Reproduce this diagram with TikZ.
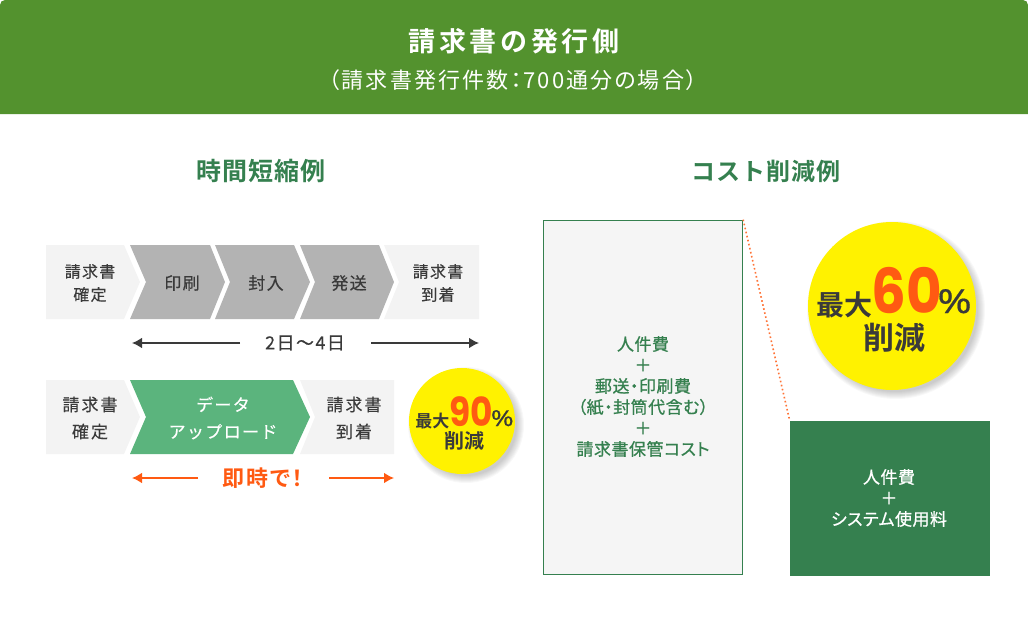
\documentclass[tikz,border=0pt]{standalone}
\usepackage{fontspec}
\setmainfont{Noto Sans CJK JP}[BoldFont={Noto Sans CJK JP Bold}]
\newfontfamily\smA[LetterSpace=8,FakeBold=0.3]{Noto Sans CJK JP}
\newfontfamily\smB[LetterSpace=12,FakeBold=0.3]{Noto Sans CJK JP}
\newfontfamily\smP[RawFeature=+palt,LetterSpace=3,FakeBold=0.7]{Noto Sans CJK JP}
\newfontfamily\bdT[LetterSpace=13.5]{Noto Sans CJK JP Bold}
\newfontfamily\bdH[LetterSpace=4]{Noto Sans CJK JP Bold}
\newfontfamily\bdP[LetterSpace=8,RawFeature=+palt]{Noto Sans CJK JP Bold}
\newfontfamily\subT[LetterSpace=9.5,RawFeature=+palt]{Noto Sans CJK JP}
\newfontfamily\digitB{Poppins Bold}
\newfontfamily\digitR[FakeBold=0.4]{Noto Sans}
\newcommand{\pxs}[2]{\fontsize{\dimexpr #1pt*3/4\relax}{\dimexpr #2pt*3/4\relax}\selectfont}
\usetikzlibrary{arrows.meta}
\definecolor{hdr}{HTML}{53922E}
\definecolor{pale}{HTML}{F3F3F3}
\definecolor{boxpale}{HTML}{F5F5F5}
\definecolor{midg}{HTML}{B3B3B3}
\definecolor{mint}{HTML}{5BB47D}
\definecolor{dgreen}{HTML}{35804F}
\definecolor{ink}{HTML}{3A3A3A}
\definecolor{hot}{HTML}{FF5A12}
\definecolor{sun}{HTML}{FFF200}
\tikzset{
  x=0.75pt,y=-0.75pt,
  lbl/.style={inner sep=0pt,align=center,text=ink},
  paleshape/.style={fill=pale,draw=none},
  greyshape/.style={fill=midg,draw=none},
  mintshape/.style={fill=mint,draw=none},
  darrow/.style={draw=ink,line width=1.1pt,-{Latex[length=7.5pt,width=8pt]}},
  harrow/.style={draw=hot,line width=1.1pt,-{Latex[length=7.5pt,width=8pt]}},
}
\newcommand{\softshadow}[3]{%
  \foreach \k in {0,1,...,7}{\fill[black,opacity=0.028] (#1+4,#2+4) circle[radius={(#3+5-\k)*0.75pt}];}}
\begin{document}
\begin{tikzpicture}
\useasboundingbox (0,0) rectangle (1028,618);
% header
\fill[hdr] (0,114) -- (0,5) arc[start angle=180,end angle=90,radius=3.75pt] -- (1023,0) arc[start angle=90,end angle=0,radius=3.75pt] -- (1028,114) -- cycle;
\node[lbl,text=white,font=\bdT\pxs{27}{30}] (title) at (514,41) {請求書の発行側};
\node[lbl,text=white,font=\subT\pxs{22}{24}] (subtitle) at (513,80) {（請求書発行件数：700通分の場合）};
\node[lbl,text=dgreen,font=\bdH\pxs{25}{28}] (headL) at (261,171) {時間短縮例};
\node[lbl,text=dgreen,font=\bdH\pxs{24}{28}] (headR) at (766,171) {コスト削減例};
% row 1
\fill[paleshape] (46,245) -- (124,245) -- (140,282) -- (124,319) -- (46,319) -- cycle;
\fill[greyshape] (130,245) -- (210,245) -- (225,282) -- (210,319) -- (130,319) -- (146,282) -- cycle;
\fill[greyshape] (215,245) -- (294,245) -- (310,282) -- (294,319) -- (215,319) -- (230,282) -- cycle;
\fill[greyshape] (300,245) -- (379,245) -- (394,282) -- (379,319) -- (300,319) -- (315,282) -- cycle;
\fill[paleshape] (384,245) -- (479,245) -- (479,319) -- (384,319) -- (399,282) -- cycle;
\node[lbl,font=\smA\pxs{16}{23}] (r1a) at (90,283) {請求書\\確定};
\node[lbl,font=\smA\pxs{17}{22}] (r1b) at (182,283) {印刷};
\node[lbl,font=\smA\pxs{17}{22}] (r1c) at (266,283) {封入};
\node[lbl,font=\smA\pxs{17}{22}] (r1d) at (349,283) {発送};
\node[lbl,font=\smA\pxs{16}{23}] (r1e) at (438,283) {請求書\\到着};
% span 1
\node[lbl,font=\smA\pxs{18}{22}] (span1) at (305,343) {2日〜4日};
\coordinate (s1l) at (132,343); \coordinate (s1la) at (240,343);
\coordinate (s1r) at (479,343); \coordinate (s1ra) at (371,343);
\draw[darrow] (s1la) -- (s1l);
\draw[darrow] (s1ra) -- (s1r);
% row 2
\fill[paleshape] (46,380) -- (124,380) -- (140,417) -- (124,454) -- (46,454) -- cycle;
\fill[mintshape] (130,380) -- (293,380) -- (310,417) -- (293,454) -- (130,454) -- (146,417) -- cycle;
\fill[paleshape] (300,380) -- (394,380) -- (394,454) -- (300,454) -- (315,417) -- cycle;
\node[lbl,font=\smB\pxs{17}{27}] (r2a) at (90,418) {請求書\\確定};
\node[lbl,text=white,font=\smA\pxs{17}{27}] (r2b) at (223,418) {データ\\アップロード};
\node[lbl,font=\smB\pxs{17}{27}] (r2c) at (354,418) {請求書\\到着};
% span 2
\node[lbl,text=hot,font=\bdP\pxs{22}{26}] (span2) at (263,478) {即時で！};
\coordinate (s2l) at (132,478); \coordinate (s2la) at (198,478);
\coordinate (s2r) at (394,478); \coordinate (s2ra) at (329,478);
\draw[harrow] (s2la) -- (s2l);
\draw[harrow] (s2ra) -- (s2r);
% small badge
\softshadow{462}{421}{53}
\node[circle,fill=sun,minimum size=79.5pt,inner sep=0pt] (badge1) at (462,421) {};
\node[lbl,anchor=base west,font=\bfseries\pxs{17}{20}] (b1a) at (415,427) {最大};
\node[lbl,anchor=base west,text=hot,font=\digitB\pxs{40}{40}] (b1b) at (449,426) {\scalebox{0.86}[1]{90}};
\node[lbl,anchor=base east,font=\digitR\pxs{22}{24}] (b1c) at (514,426) {\scalebox{1.25}[1]{\%}};
\node[lbl,font=\bfseries\pxs{20}{22},anchor=base] (b1d) at (464,448) {削減};
% left box
\node[draw=dgreen,fill=boxpale,line width=0.75pt,minimum width=149.5pt,minimum height=266pt,inner sep=0pt] (boxL) at (643,397.5) {};
\node[lbl,text=dgreen,font=\smP\pxs{17}{21}] (boxLt) at (643,396.5) {人件費\\＋\\郵送・印刷費\\（紙・封筒代含む）\\＋\\請求書保管コスト};
% right box
\node[fill=dgreen,minimum width=150pt,minimum height=116.25pt,inner sep=0pt] (boxR) at (890,498.5) {};
\node[lbl,text=white,font=\smP\pxs{17}{21}] (boxRt) at (889,498) {人件費\\＋\\システム使用料};
% big badge
\softshadow{892}{306}{84}
\node[circle,fill=sun,minimum size=126pt,inner sep=0pt] (badge2) at (892,306) {};
\node[lbl,anchor=base west,font=\bfseries\pxs{28}{30}] (b2a) at (816,315) {最大};
\node[lbl,anchor=base west,text=hot,font=\digitB\pxs{62}{60}] (b2b) at (871,313) {\scalebox{0.88}[1]{60}};
\node[lbl,anchor=base east,font=\digitR\pxs{33}{34}] (b2c) at (972,313) {\scalebox{1.25}[1]{\%}};
\node[lbl,font=\bfseries\pxs{31}{32},anchor=base] (b2d) at (894,349) {削減};
% dotted connector
\draw[hot!85!white,line width=1.2pt,dash pattern=on 1.2pt off 1.9pt] (boxL.north east) -- (boxR.north west);
\end{tikzpicture}
\end{document}
